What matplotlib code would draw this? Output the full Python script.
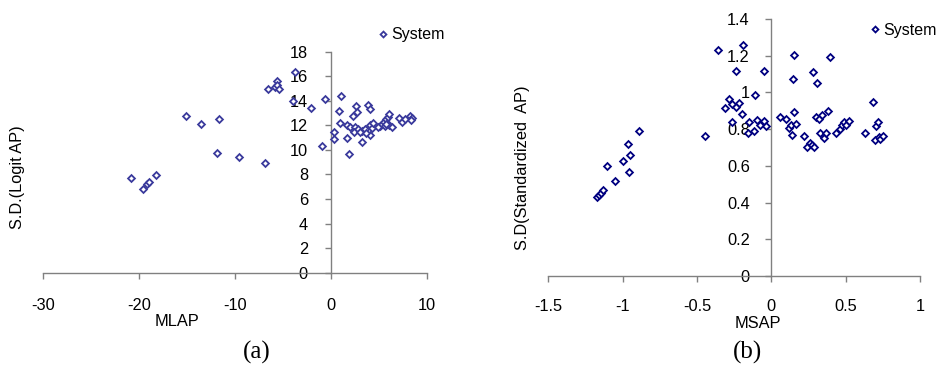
import matplotlib
matplotlib.use("Agg")
import matplotlib.pyplot as plt
from matplotlib.ticker import FixedLocator, FixedFormatter

plt.rcParams['font.family'] = ['Liberation Sans', 'DejaVu Sans']
plt.rcParams['axes.unicode_minus'] = False

# ---- Panel (a) data: MLAP vs S.D.(Logit AP) ----
mlap = [-20.9, -19.6, -19.2, -18.96, -18.2, -15.06, -13.5, -11.65, -11.9, -9.63,
        -6.89, -6.54, -5.84, -5.6, -5.57, -5.39, -3.76, -3.93, -2.09, -0.94,
        -0.63, 1.01, 0.87, 1.0, 0.38, 0.38, 1.67, 1.91, 2.58, 3.9,
        4.07, 2.68, 2.33, 1.7, 1.98, 2.5, 2.85, 3.2, 3.55, 4.07,
        4.25, 4.42, 3.2, 4.07, 2.44, 3.03, 5.1, 5.29, 5.53, 5.74,
        5.92, 6.08, 5.64, 6.08, 6.33, 5.8, 7.14, 7.38, 7.72, 8.25,
        8.42, 8.35, 3.62, 4.9]
sd_logit = [7.68, 6.79, 7.2, 7.36, 7.93, 12.79, 12.14, 12.52, 9.72, 9.39,
            8.96, 14.96, 15.1, 15.6, 15.29, 14.99, 16.37, 14.0, 13.39, 10.34,
            14.15, 14.39, 13.2, 12.22, 11.43, 10.89, 10.94, 9.67, 13.6, 13.65,
            13.3, 13.1, 12.76, 12.03, 11.89, 11.89, 11.68, 11.54, 11.68, 12.03,
            11.76, 12.22, 10.67, 11.2, 11.48, 11.48, 11.95, 12.1, 12.3, 12.49,
            12.7, 12.9, 11.95, 12.03, 11.89, 12.1, 12.57, 12.3, 12.49, 12.76,
            12.57, 12.45, 11.4, 11.85]

# ---- Panel (b) data: MSAP vs S.D(Standardized AP) ----
msap = [-1.173, -1.157, -1.146, -1.132, -1.105, -1.049, -1.0, -0.964, -0.953, -0.955,
        -0.892, -0.444, -0.361, -0.193, -0.238, -0.052, -0.112, -0.282, -0.309, -0.264,
        -0.235, -0.22, -0.197, -0.264, -0.153, -0.157, -0.114, -0.096, -0.074, -0.052,
        -0.034, 0.061, 0.1, 0.116, 0.134, 0.143, 0.155, 0.155, 0.139, 0.168,
        0.222, 0.24, 0.258, 0.275, 0.29, 0.278, 0.307, 0.397, 0.303, 0.318,
        0.34, 0.379, 0.33, 0.352, 0.37, 0.437, 0.464, 0.475, 0.487, 0.504,
        0.52, 0.632, 0.684, 0.706, 0.715, 0.7, 0.722, 0.733, 0.751]
sd_std = [0.432, 0.443, 0.454, 0.468, 0.599, 0.518, 0.626, 0.717, 0.659, 0.567,
          0.79, 0.761, 1.231, 1.258, 1.115, 1.117, 0.986, 0.962, 0.913, 0.935,
          0.922, 0.94, 0.88, 0.837, 0.837, 0.777, 0.791, 0.85, 0.822, 0.844,
          0.819, 0.868, 0.855, 0.804, 0.822, 1.073, 1.204, 0.895, 0.768, 0.826,
          0.764, 0.701, 0.723, 0.714, 0.705, 1.11, 1.05, 1.191, 0.868, 0.855,
          0.877, 0.899, 0.78, 0.75, 0.778, 0.778, 0.801, 0.823, 0.841, 0.823,
          0.846, 0.777, 0.948, 0.819, 0.841, 0.741, 0.759, 0.744, 0.763]

xticks_a = [-30, -20, -10, 0, 10]
yticks_a = [0, 2, 4, 6, 8, 10, 12, 14, 16, 18]
xticks_b = [-1.5, -1, -0.5, 0, 0.5, 1]
xlabels_b = ["-1.5", "-1", "-0.5", "0", "0.5", "1"]
yticks_b = [0, 0.2, 0.4, 0.6, 0.8, 1.0, 1.2, 1.4]
ylabels_b = ["0", "0.2", "0.4", "0.6", "0.8", "1", "1.2", "1.4"]

W, H = 939, 367
fig = plt.figure(figsize=(W / 100, H / 100), dpi=100)

def px_axes(l, r, t, b):
    return fig.add_axes([l / W, 1 - b / H, (r - l) / W, (b - t) / H])

axA = px_axes(43.3, 426.7, 51.7, 272.7)
axB = px_axes(548.3, 920.0, 19.0, 276.0)

spine_col = '#808080'
for ax in (axA, axB):
    ax.spines['top'].set_visible(False)
    ax.spines['right'].set_visible(False)
    ax.spines['left'].set_position(('data', 0))
    ax.spines['bottom'].set_position(('data', 0))
    for s in ('left', 'bottom'):
        ax.spines[s].set_color(spine_col)
        ax.spines[s].set_linewidth(1.0)
    ax.patch.set_alpha(0)

colA = '#3a3a9c'
colB = '#000080'
tick_fs = 11.8
lab_fs = 11.8
leg_fs = 11.5

axA.plot(mlap, sd_logit, linestyle='none', marker='D', markersize=3.5,
         markerfacecolor='white', markeredgecolor=colA, markeredgewidth=1.3,
         label='System', zorder=3)
axA.set_xlim(-30, 10)
axA.set_ylim(0, 18)
axA.xaxis.set_major_locator(FixedLocator(xticks_a))
axA.yaxis.set_major_locator(FixedLocator(yticks_a))
axA.tick_params(axis='x', direction='out', length=4, width=1, color=spine_col,
                pad=14, labelsize=tick_fs)
axA.tick_params(axis='y', direction='out', length=4, width=1, color=spine_col,
                pad=12.5, labelsize=tick_fs)

axB.plot(msap, sd_std, linestyle='none', marker='D', markersize=3.5,
         markerfacecolor='white', markeredgecolor=colB, markeredgewidth=1.3,
         label='System', zorder=3)
axB.set_xlim(-1.5, 1)
axB.set_ylim(0, 1.4)
axB.xaxis.set_major_locator(FixedLocator(xticks_b))
axB.xaxis.set_major_formatter(FixedFormatter(xlabels_b))
axB.yaxis.set_major_locator(FixedLocator(yticks_b))
axB.yaxis.set_major_formatter(FixedFormatter(ylabels_b))
axB.tick_params(axis='x', direction='out', length=4, width=1, color=spine_col,
                pad=12.5, labelsize=tick_fs)
axB.tick_params(axis='y', direction='out', length=4, width=1, color=spine_col,
                pad=11.5, labelsize=tick_fs)

for ax in (axA, axB):
    for lab in ax.get_xticklabels() + ax.get_yticklabels():
        lab.set_zorder(4)

# axis titles
fig.text(177 / W, 1 - 321 / H, 'MLAP', ha='center', va='center', fontsize=lab_fs)
fig.text(758 / W, 1 - 324 / H, 'MSAP', ha='center', va='center', fontsize=lab_fs)
fig.text(18 / W, 1 - 177 / H, 'S.D.(Logit AP)', ha='center', va='center',
         rotation=90, fontsize=lab_fs)
fig.text(523 / W, 1 - 167.5 / H, 'S.D(Standardized  AP)', ha='center', va='center',
         rotation=90, fontsize=lab_fs)

# legends
axA.legend(loc='center left', bbox_to_anchor=(379 / W, 1 - 35 / H),
           bbox_transform=fig.transFigure, frameon=False, fontsize=leg_fs,
           handlelength=0.5, handletextpad=0.25, borderpad=0, borderaxespad=0,
           markerscale=0.85)
axB.legend(loc='center left', bbox_to_anchor=(871 / W, 1 - 30 / H),
           bbox_transform=fig.transFigure, frameon=False, fontsize=leg_fs,
           handlelength=0.5, handletextpad=0.25, borderpad=0, borderaxespad=0,
           markerscale=0.85)

# captions
fig.text(257 / W, 1 - 352 / H, '(a)', ha='center', va='center', fontsize=18,
         family=['Liberation Serif', 'DejaVu Serif'])
fig.text(748 / W, 1 - 352 / H, '(b)', ha='center', va='center', fontsize=18,
         family=['Liberation Serif', 'DejaVu Serif'])

fig.savefig('out.png', dpi=100)
